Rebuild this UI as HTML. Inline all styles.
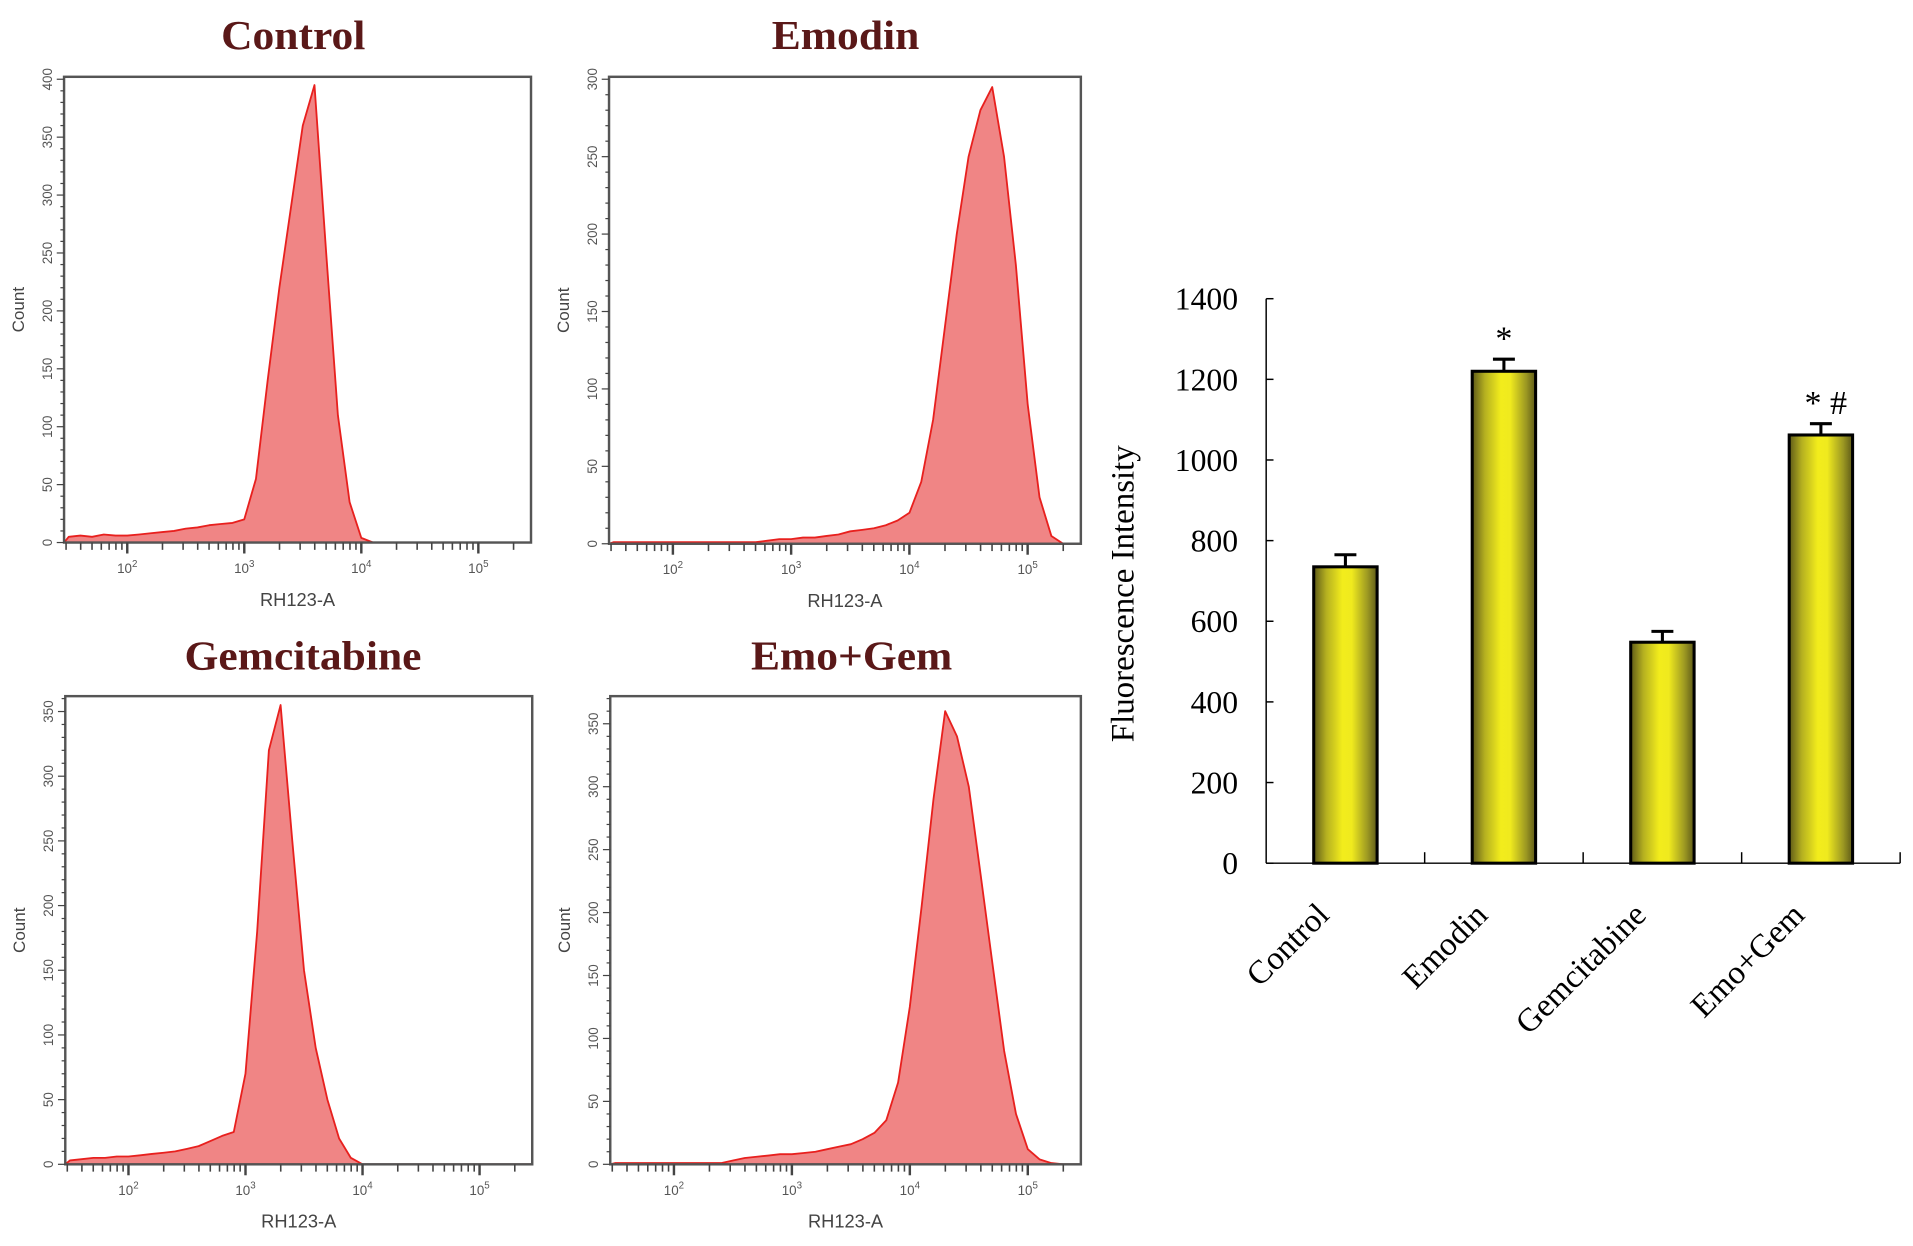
<!DOCTYPE html>
<html><head><meta charset="utf-8"><style>
html,body{margin:0;padding:0;background:#fff;}
svg{display:block;}
</style></head><body>
<svg id="fig" width="1913" height="1246" viewBox="0 0 1568 1022" xmlns="http://www.w3.org/2000/svg">
<defs>
<linearGradient id="barGrad" x1="0" x2="1" y1="0" y2="0">
<stop offset="0" stop-color="#5e5a18"/><stop offset="0.2" stop-color="#b5b020"/>
<stop offset="0.45" stop-color="#f2ec1c"/><stop offset="0.6" stop-color="#f0ea1e"/>
<stop offset="0.85" stop-color="#9c9822"/><stop offset="1" stop-color="#5e5a18"/>
</linearGradient>
</defs>
<g id="hists"></g>
<g id="bars"></g>
</svg>
<script>
// ---- Histogram data (bins at log10 = 1.5, 1.6, ... 5.4) ----
const binStart = 1.5;
const binStep = 0.1;
const controlCounts = [5,6,5,7,6,6,7,8,9,10,12,13,15,16,17,20,55,140,220,290,360,395,250,110,35,4,0,0,0,0,0,0,0,0,0,0,0,0,0,0];
const emodinCounts = [1,1,1,1,1,1,1,1,1,1,1,1,1,2,3,3,4,4,5,6,8,9,10,12,15,20,40,80,140,200,250,280,295,250,180,90,30,5,0,0];
const gemCounts = [3,4,5,5,6,6,7,8,9,10,12,14,18,22,25,70,180,320,355,250,150,90,50,20,5,0,0,0,0,0,0,0,0,0,0,0,0,0,0,0];
const emoGemCounts = [1,1,1,1,1,1,1,1,1,1,3,5,6,7,8,8,9,10,12,14,16,20,25,35,65,125,205,290,360,340,300,230,160,90,40,12,4,1,0,0];
const panelTitles = ["Control","Emodin","Gemcitabine","Emo+Gem"];
const panelYMax = [400,300,360,370];
const decadeLabels = ["2","3","4","5"];

// ---- Bar chart data ----
const categories = ["Control","Emodin","Gemcitabine","Emo+Gem"];
const values = [735,1220,548,1062];
const errors = [30,30,27,28];
const marks = ["","*","","*#"];
const yTicks = [0,200,400,600,800,1000,1200,1400];

const NS="http://www.w3.org/2000/svg";
function mk(tag,attrs,parent,text){const e=document.createElementNS(NS,tag);for(const k in attrs)e.setAttribute(k,attrs[k]);if(text!==undefined)e.textContent=text;parent.appendChild(e);return e;}

const hg=document.getElementById('hists');
const frames=[{x0:52,x1:435,y0:63,y1:445,tx:240,ty:40},{x0:499,x1:886,y0:63,y1:446,tx:693,ty:40},{x0:53,x1:436,y0:571,y1:955,tx:248,ty:549},{x0:500,x1:886,y0:571,y1:955,tx:698,ty:549}];
const allCounts=[controlCounts,emodinCounts,gemCounts,emoGemCounts];
const slugs=["control","emodin","gemcitabine","emo-gem"];
frames.forEach((f,i)=>{
  const g=mk('g',{},hg);
  
  
  const lmin=1.46, lmax=5.45;
  const xs=l=>f.x0+(l-lmin)/(lmax-lmin)*(f.x1-f.x0);
  const ys=c=>f.y1-c/panelYMax[i]*(f.y1-f.y0-2);
  const t=mk('text',{x:f.tx,y:f.ty,'text-anchor':'middle','font-family':'Liberation Serif, serif','font-weight':'bold','font-size':34,fill:'#5a1818',transform:`translate(${f.tx},0) scale(1.05,1) translate(${-f.tx},0)`},g,panelTitles[i]);
  
  
  const cts=allCounts[i];
  let d='M'+xs(lmin)+','+f.y1;
  cts.forEach((c,k)=>{d+=' L'+xs(binStart+k*binStep).toFixed(1)+','+ys(c).toFixed(1);});
  d+=' L'+xs(lmax)+','+f.y1+' Z';
  const a=mk('path',{d:d,fill:'#f08585',stroke:'#e8201e','stroke-width':1.5,'stroke-linejoin':'round'},g);
  
  
  const fr=mk('rect',{x:f.x0,y:f.y0,width:f.x1-f.x0,height:f.y1-f.y0,fill:'none',stroke:'#555','stroke-width':2},g);
  
  
  for(let v=0;v<=panelYMax[i];v+=10){
    const y=ys(v);const major=v%50===0;
    mk('line',{x1:f.x0-(major?6:3),x2:f.x0,y1:y,y2:y,stroke:'#444','stroke-width':1},g);
    if(major){const lb=mk('text',{x:0,y:0,transform:`translate(${f.x0-10},${y}) rotate(-90)`,'text-anchor':'middle','font-family':'Liberation Sans, sans-serif','font-size':11,fill:'#555'},g,String(v));
      
      }
  }
  const yl=mk('text',{x:0,y:0,transform:`translate(${f.x0-33},${(f.y0+f.y1)/2}) rotate(-90)`,'text-anchor':'middle','font-family':'Liberation Sans, sans-serif','font-size':14,fill:'#444'},g,'Count');
  
  
  for(let dec=1;dec<=5;dec++){for(let m=1;m<=9;m++){const l=dec+Math.log10(m);if(l<lmin||l>lmax)continue;
    mk('line',{x1:xs(l),x2:xs(l),y1:f.y1,y2:f.y1+(m===1?9:6),stroke:'#444','stroke-width':m===1?2:1.3},g);}}
  decadeLabels.forEach((p,k)=>{const x=xs(2+k);
    const lb=mk('text',{x:x,y:f.y1+25,'text-anchor':'middle','font-family':'Liberation Sans, sans-serif','font-size':11,fill:'#555'},g);
    
    
    mk('tspan',{},lb,'10');mk('tspan',{dy:-5,'font-size':8},lb,p);});
  const xl=mk('text',{x:(f.x0+f.x1)/2,y:f.y1+52,'text-anchor':'middle','font-family':'Liberation Sans, sans-serif','font-size':15,fill:'#444'},g,'RH123-A');
  
  
});

// ---- bar chart ----
const bg=document.getElementById('bars');
const AX0=1038, AX1=1558, AY0=708, AY1=245, YMAX=1400;
const yS=v=>AY0-v/YMAX*(AY0-AY1);
const bw=(AX1-AX0)/categories.length;
const xC=i=>AX0+bw*(i+0.5);
mk('line',{x1:AX0,x2:AX0,y1:AY1,y2:AY0,stroke:'#000','stroke-width':1.2},bg);
mk('line',{x1:AX0,x2:AX1,y1:AY0,y2:AY0,stroke:'#000','stroke-width':1.2},bg);
yTicks.forEach(v=>{const y=yS(v);
  mk('line',{x1:AX0,x2:AX0+6,y1:y,y2:y,stroke:'#000','stroke-width':1.2},bg);
  const t=mk('text',{x:1015,y:y+9,'text-anchor':'end','font-family':'Liberation Serif, serif','font-size':26,fill:'#000'},bg,String(v));
  
  
});
for(let i=1;i<=categories.length;i++){const x=AX0+bw*i;mk('line',{x1:x,x2:x,y1:AY0,y2:AY0-9,stroke:'#000','stroke-width':1.2},bg);}
const yt=mk('text',{x:0,y:0,transform:'translate(929,487) rotate(-90)','text-anchor':'middle','font-family':'Liberation Serif, serif','font-size':27,fill:'#000'},bg,'Fluorescence Intensity');


categories.forEach((c,i)=>{
  const x=xC(i), w=52, top=yS(values[i]);
  const r=mk('rect',{x:x-w/2,y:top,width:w,height:AY0-top,fill:'url(#barGrad)',stroke:'#000','stroke-width':2.5},bg);
  
  
  const et=yS(values[i]+errors[i]);
  const e=mk('path',{d:`M${x},${top} L${x},${et} M${x-9},${et} L${x+9},${et}`,stroke:'#000','stroke-width':2.5,fill:'none'},bg);
  
  
  if(marks[i]){const s=mk('text',{x:x+(marks[i].length>1?4:0),y:et-8,'text-anchor':'middle','font-family':'Liberation Serif, serif','font-size':28,fill:'#000'},bg,marks[i].split('').join(' '));
    
    }
  const lb=mk('text',{x:0,y:0,transform:`translate(${x-12},${752}) rotate(-45)`,'text-anchor':'end','font-family':'Liberation Serif, serif','font-size':27,fill:'#000'},bg,c);
  
  
});
</script>
</body></html>
